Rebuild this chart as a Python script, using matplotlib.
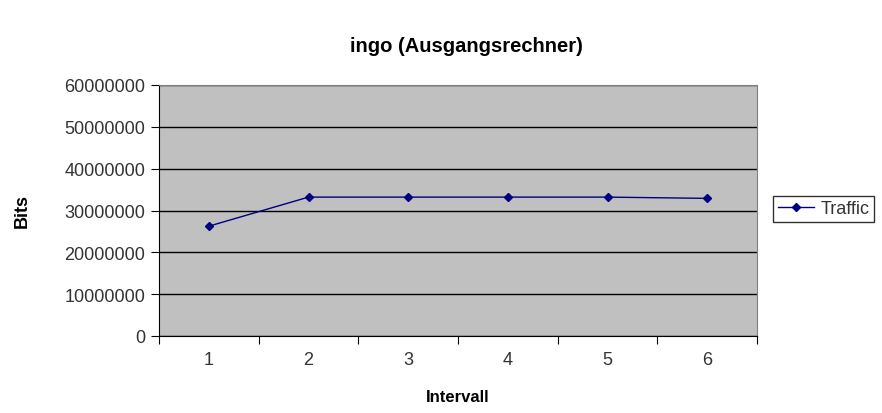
import numpy as np
import matplotlib.pyplot as plt

plt.rcParams['font.family'] = ['Liberation Sans', 'DejaVu Sans']

intervals = ['1', '2', '3', '4', '5', '6']
traffic = [26250000, 33200000, 33200000, 33200000, 33200000, 32900000]
y_ticks = [0, 10000000, 20000000, 30000000, 40000000, 50000000, 60000000]

fig = plt.figure(figsize=(8.82, 4.14), dpi=100)
ax = fig.add_axes([159 / 882, 1 - 337 / 414, 598 / 882, 251 / 414])
ax.set_facecolor('#c0c0c0')

x = np.arange(len(intervals))
ax.plot(x, traffic, color='#000080', marker='D', markersize=4.5, linewidth=1,
        label='Traffic', zorder=3)

ax.set_xlim(-0.5, len(intervals) - 0.5)
ax.set_ylim(0, 60000000)
ax.set_yticks(y_ticks)
ax.set_yticklabels([str(v) for v in y_ticks], color='#333333')
ax.yaxis.grid(True, color='black', linewidth=1)
ax.set_axisbelow(True)

# category labels centred, tick marks on boundaries
ax.set_xticks(np.arange(len(intervals) + 1) - 0.5)
ax.set_xticklabels([])
ax.set_xticks(x, minor=True)
ax.set_xticklabels(intervals, minor=True, color='#333333')
ax.tick_params(axis='x', which='minor', length=0, pad=11, labelsize=13)
ax.tick_params(axis='x', which='major', length=6, direction='out')
ax.tick_params(axis='y', length=6, direction='out', labelsize=13, pad=4)

for side in ['left', 'bottom']:
    ax.spines[side].set_color('black')
for side in ['top', 'right']:
    ax.spines[side].set_color('#808080')

ax.set_xlabel('Intervall', fontsize=12, fontweight='bold', va='center')
ax.xaxis.set_label_coords(0.5, -(398 - 337) / 251)
ax.set_ylabel('Bits', fontsize=13, fontweight='bold', va='center')
ax.yaxis.set_label_coords(-(159 - 22) / 598, 0.5)
fig.text(466 / 882, 1 - 47 / 414, 'ingo (Ausgangsrechner)', ha='center',
         va='center', fontsize=14.5, fontweight='bold')

leg = fig.legend(loc='center left', bbox_to_anchor=(764 / 882, 1 - 210 / 414),
                 frameon=True, fancybox=False, fontsize=13, handlelength=2,
                 borderpad=0.25, handletextpad=0.4, labelcolor='#333333')
leg.get_frame().set_edgecolor('black')
leg.get_frame().set_linewidth(1)

fig.savefig('out.png', dpi=100)
